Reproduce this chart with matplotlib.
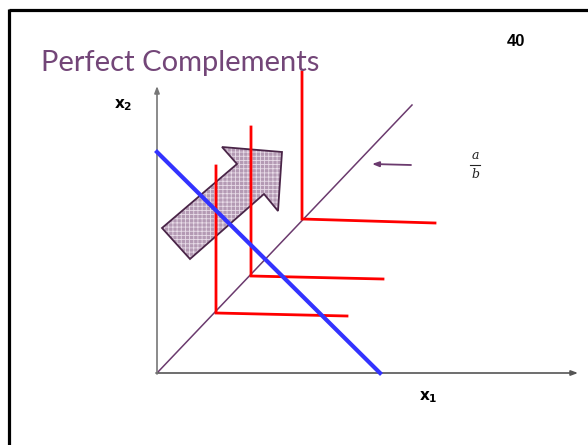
import matplotlib
matplotlib.use("Agg")
import matplotlib.pyplot as plt
from matplotlib.patches import Polygon

W, H = 588, 445

# Data (in slide pixel coordinates)
title = "Perfect Complements"
slide_number = "40"
origin = (157, 373)
x_axis_end = (578, 373)
y_axis_end = (157, 86)
diag_end = (412, 105)
budget_start = (157, 152)
budget_end = (380, 373)
corner_x = [216, 251, 302]
corner_y = [313, 276, 219]
vert_top = [166, 127, 72]
horiz_end_x = [347, 383, 435]
horiz_end_y = [316, 279, 223]
arrow_x = [162, 190, 264, 278, 282, 222, 237]
arrow_y = [228, 259, 194, 211, 152, 147, 164]

purple = "#6b3a6e"

plt.rcParams["hatch.linewidth"] = 0.6

fig = plt.figure(figsize=(W / 100, H / 100), dpi=100)
ax = fig.add_axes([0, 0, 1, 1])
ax.set_xlim(0, W)
ax.set_ylim(H, 0)
ax.axis("off")

# slide frame
ax.plot([9, W], [9.5, 9.5], color="black", lw=2.3, solid_capstyle="butt")
ax.plot([9, 9], [8.5, H], color="black", lw=2.3, solid_capstyle="butt")

ax.text(41, 71, title, fontsize=21, color="#734678", family="Lato",
        fontweight="normal", ha="left", va="baseline")
ax.text(525, 46, slide_number, fontsize=12, fontweight="bold", ha="right",
        va="baseline", family="Liberation Sans")

# big arrow: patterned fill then outline (beneath the lines)
pts = list(zip(arrow_x, arrow_y))
ax.add_patch(Polygon(pts, closed=True, facecolor="#b49ab4",
                     edgecolor="#e8dce8", lw=0, hatch="++++", zorder=1))
ax.add_patch(Polygon(pts, closed=True, facecolor="none",
                     edgecolor="#4a2548", lw=1.3, zorder=1.1))

# axes
ax.annotate("", xy=x_axis_end, xytext=(origin[0] - 1, origin[1]),
            arrowprops=dict(arrowstyle="-|>,head_length=0.4,head_width=0.15",
                            color="#555555", lw=1.2, shrinkA=0, shrinkB=0))
ax.annotate("", xy=y_axis_end, xytext=(origin[0], origin[1] + 1),
            arrowprops=dict(arrowstyle="-|>,head_length=0.4,head_width=0.15",
                            color="#777777", lw=1.2, shrinkA=0, shrinkB=0))
ax.text(114, 108, r"$\mathbf{x_2}$", fontsize=11, ha="left", va="baseline")
ax.text(419, 400, r"$\mathbf{x_1}$", fontsize=11, ha="left", va="baseline")

# diagonal
ax.plot([origin[0], diag_end[0]], [origin[1], diag_end[1]], color=purple,
        lw=1.1, zorder=2)

# indifference curves
for cx, cy, vt, hx, hy in zip(corner_x, corner_y, vert_top, horiz_end_x, horiz_end_y):
    ax.plot([cx, cx, hx], [vt, cy, hy], color="#ff0000", lw=2.0,
            solid_joinstyle="miter", zorder=2)

# budget line
ax.plot([budget_start[0], budget_end[0]], [budget_start[1], budget_end[1]],
        color="#3333ff", lw=3.0, zorder=3)

# small pointer arrow
ax.annotate("", xy=(372, 164), xytext=(411, 165),
            arrowprops=dict(arrowstyle="-|>,head_length=0.4,head_width=0.15",
                            color=purple, lw=1.3, shrinkA=0, shrinkB=0))

# a/b fraction
ax.text(475, 159, "a", fontsize=9, style="italic", ha="center",
        va="baseline", family="DejaVu Serif", color="#222222")
ax.plot([470, 480], [165, 165], color="#222222", lw=0.8)
ax.text(475, 178, "b", fontsize=9, style="italic", ha="center",
        va="baseline", family="DejaVu Serif", color="#222222")

fig.savefig("out.png", dpi=100)
